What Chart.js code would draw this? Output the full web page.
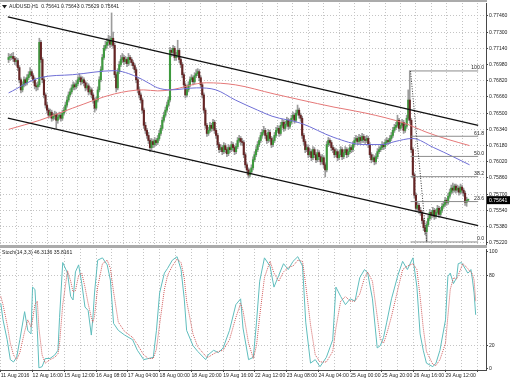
<!DOCTYPE html>
<html>
<head>
<meta charset="utf-8">
<title>AUDUSD H1</title>
<script src="https://cdn.jsdelivr.net/npm/chart.js@4.4.1/dist/chart.umd.min.js"></script>
<style>
  html, body { margin: 0; padding: 0; background: #fff; }
  body { position: relative; width: 510px; height: 382px; overflow: hidden; }
  canvas { position: absolute; left: 0; }
  #priceChart { top: 0; }
  #stochChart { top: 248px; }
  .sep { position: absolute; left: 0; width: 487px; background: #ababab; }
</style>
</head>
<body>
<canvas id="priceChart" width="510" height="248"></canvas>
<canvas id="stochChart" width="510" height="134"></canvas>
<div class="sep" style="top:0;height:2px"></div>
<div class="sep" style="top:245px;height:3px"></div>
<script>
// AUDUSD H1, one bar per hour from 11 Aug 2016 20:00
const timeLabels = ['11 Aug 2016', '12 Aug 16:00', '15 Aug 12:00', '16 Aug 08:00', '17 Aug 04:00',
    '18 Aug 00:00', '18 Aug 20:00', '19 Aug 16:00', '22 Aug 12:00', '23 Aug 08:00', '24 Aug 04:00',
    '25 Aug 00:00', '25 Aug 20:00', '26 Aug 16:00', '29 Aug 12:00'];
const priceTicks = [0.7746, 0.7730, 0.7714, 0.7698, 0.7682, 0.7666, 0.7650, 0.7634,
    0.7618, 0.7602, 0.7586, 0.7570, 0.7554, 0.7538, 0.7522];
const stochTicks = [0, 20, 80, 100];

const firstOpen = 0.7703;
const closes = [
    0.7705,0.7705,0.7706,0.7704,0.7701,0.7702,0.7695,0.7683,0.7673,0.7678,
    0.7683,0.7680,0.7685,0.7688,0.7691,0.7687,0.7683,0.7677,0.7676,0.7678,
    0.7720,0.7703,0.7683,0.7668,0.7658,0.7653,0.7648,0.7651,0.7645,0.7647,
    0.7649,0.7643,0.7646,0.7648,0.7645,0.7650,0.7653,0.7658,0.7663,0.7668,
    0.7671,0.7675,0.7678,0.7676,0.7679,0.7683,0.7685,0.7681,0.7683,0.7680,
    0.7675,0.7677,0.7671,0.7673,0.7668,0.7663,0.7655,0.7663,0.7673,0.7683,
    0.7693,0.7705,0.7714,0.7717,0.7720,0.7722,0.7718,0.7724,0.7717,0.7688,
    0.7675,0.7691,0.7698,0.7703,0.7705,0.7701,0.7703,0.7699,0.7705,0.7703,
    0.7700,0.7697,0.7693,0.7683,0.7673,0.7668,0.7663,0.7653,0.7638,0.7633,
    0.7628,0.7623,0.7616,0.7622,0.7619,0.7623,0.7621,0.7625,0.7630,0.7635,
    0.7643,0.7648,0.7653,0.7658,0.7663,0.7712,0.7710,0.7714,0.7705,0.7707,
    0.7712,0.7703,0.7698,0.7688,0.7678,0.7668,0.7673,0.7678,0.7683,0.7685,
    0.7681,0.7687,0.7689,0.7691,0.7685,0.7678,0.7668,0.7653,0.7638,0.7630,
    0.7633,0.7638,0.7635,0.7641,0.7633,0.7628,0.7619,0.7614,0.7616,0.7612,
    0.7618,0.7614,0.7610,0.7616,0.7614,0.7619,0.7616,0.7612,0.7617,0.7623,
    0.7625,0.7622,0.7621,0.7609,0.7599,0.7594,0.7589,0.7592,0.7596,0.7604,
    0.7609,0.7614,0.7619,0.7623,0.7628,0.7631,0.7633,0.7628,0.7623,0.7631,
    0.7625,0.7619,0.7623,0.7628,0.7633,0.7635,0.7630,0.7638,0.7641,0.7635,
    0.7639,0.7643,0.7637,0.7641,0.7645,0.7648,0.7643,0.7650,0.7653,0.7648,
    0.7645,0.7628,0.7622,0.7614,0.7616,0.7609,0.7612,0.7606,0.7614,0.7609,
    0.7604,0.7611,0.7607,0.7602,0.7606,0.7599,0.7594,0.7619,0.7623,0.7621,
    0.7616,0.7614,0.7609,0.7612,0.7606,0.7609,0.7614,0.7607,0.7611,0.7614,
    0.7609,0.7612,0.7616,0.7614,0.7619,0.7623,0.7625,0.7622,0.7626,0.7623,
    0.7627,0.7624,0.7623,0.7625,0.7619,0.7609,0.7604,0.7606,0.7602,0.7607,
    0.7612,0.7614,0.7616,0.7619,0.7617,0.7621,0.7623,0.7622,0.7625,0.7628,
    0.7633,0.7636,0.7638,0.7643,0.7635,0.7638,0.7641,0.7633,0.7637,0.7645,
    0.7663,0.7643,0.7614,0.7589,0.7569,0.7556,0.7559,0.7554,0.7552,0.7544,
    0.7537,0.7533,0.7540,0.7546,0.7552,0.7549,0.7554,0.7548,0.7552,0.7556,
    0.7550,0.7554,0.7558,0.7560,0.7564,0.7562,0.7568,0.7572,0.7576,0.7574,
    0.7578,0.7574,0.7576,0.7572,0.7577,0.7574,0.7571,0.7562,0.75641,0.75641
];
const highs = [
    0.7709,0.7708,0.7709,0.7710,0.7706,0.7705,0.7704,0.7697,0.7685,0.7681,
    0.7686,0.7685,0.7688,0.7691,0.7695,0.7693,0.7689,0.7685,0.7680,0.7681,
    0.7724,0.7722,0.7705,0.7686,0.7670,0.7661,0.7655,0.7654,0.7653,0.7650,
    0.7652,0.7651,0.7649,0.7651,0.7650,0.7653,0.7656,0.7661,0.7666,0.7671,
    0.7674,0.7678,0.7681,0.7680,0.7682,0.7686,0.7689,0.7687,0.7686,0.7685,
    0.7682,0.7680,0.7679,0.7676,0.7675,0.7670,0.7665,0.7666,0.7676,0.7686,
    0.7696,0.7708,0.7717,0.7721,0.7724,0.7727,0.7726,0.7749,0.7730,0.7719,
    0.7690,0.7694,0.7701,0.7707,0.7709,0.7707,0.7706,0.7705,0.7709,0.7707,
    0.7705,0.7702,0.7699,0.7695,0.7685,0.7676,0.7670,0.7665,0.7655,0.7641,
    0.7635,0.7631,0.7625,0.7625,0.7624,0.7626,0.7625,0.7628,0.7633,0.7638,
    0.7646,0.7651,0.7656,0.7661,0.7666,0.7715,0.7714,0.7717,0.7716,0.7710,
    0.7722,0.7714,0.7705,0.7700,0.7690,0.7680,0.7676,0.7681,0.7686,0.7688,
    0.7687,0.7690,0.7693,0.7694,0.7693,0.7687,0.7680,0.7670,0.7655,0.7640,
    0.7636,0.7641,0.7640,0.7644,0.7643,0.7635,0.7630,0.7621,0.7619,0.7618,
    0.7621,0.7620,0.7616,0.7619,0.7618,0.7622,0.7621,0.7618,0.7620,0.7626,
    0.7628,0.7627,0.7625,0.7623,0.7611,0.7601,0.7596,0.7595,0.7599,0.7607,
    0.7612,0.7617,0.7622,0.7626,0.7631,0.7634,0.7637,0.7635,0.7630,0.7634,
    0.7633,0.7627,0.7626,0.7631,0.7636,0.7638,0.7637,0.7641,0.7644,0.7643,
    0.7642,0.7646,0.7645,0.7644,0.7648,0.7651,0.7650,0.7653,0.7658,0.7655,
    0.7650,0.7647,0.7630,0.7624,0.7619,0.7618,0.7615,0.7614,0.7617,0.7616,
    0.7611,0.7614,0.7613,0.7609,0.7609,0.7608,0.7601,0.7622,0.7626,0.7625,
    0.7623,0.7618,0.7616,0.7615,0.7614,0.7612,0.7617,0.7616,0.7614,0.7617,
    0.7616,0.7615,0.7619,0.7618,0.7622,0.7626,0.7628,0.7627,0.7629,0.7628,
    0.7630,0.7629,0.7627,0.7628,0.7627,0.7621,0.7611,0.7609,0.7608,0.7610,
    0.7615,0.7617,0.7619,0.7622,0.7621,0.7624,0.7626,0.7625,0.7628,0.7631,
    0.7636,0.7639,0.7641,0.7648,0.7645,0.7641,0.7644,0.7643,0.7640,0.7648,
    0.7673,0.7692,0.7645,0.7616,0.7591,0.7571,0.7562,0.7561,0.7557,0.7554,
    0.7546,0.7539,0.7543,0.7549,0.7555,0.7554,0.7557,0.7556,0.7555,0.7559,
    0.7558,0.7557,0.7561,0.7563,0.7567,0.7566,0.7571,0.7575,0.7579,0.7581,
    0.7580,0.7580,0.7579,0.7578,0.7580,0.7579,0.7576,0.7573,0.7567,0.75643
];
const lows = [
    0.7700,0.7702,0.7703,0.7701,0.7698,0.7697,0.7692,0.7680,0.7670,0.7671,
    0.7676,0.7677,0.7678,0.7683,0.7686,0.7684,0.7680,0.7674,0.7672,0.7673,
    0.7676,0.7700,0.7680,0.7665,0.7655,0.7650,0.7645,0.7646,0.7642,0.7643,
    0.7644,0.7635,0.7640,0.7644,0.7642,0.7643,0.7648,0.7651,0.7656,0.7661,
    0.7666,0.7669,0.7673,0.7673,0.7674,0.7677,0.7681,0.7678,0.7679,0.7677,
    0.7672,0.7673,0.7668,0.7669,0.7665,0.7660,0.7651,0.7653,0.7661,0.7671,
    0.7681,0.7691,0.7703,0.7712,0.7714,0.7717,0.7715,0.7716,0.7714,0.7685,
    0.7671,0.7673,0.7689,0.7696,0.7700,0.7698,0.7699,0.7696,0.7697,0.7700,
    0.7697,0.7694,0.7690,0.7680,0.7670,0.7665,0.7660,0.7650,0.7635,0.7630,
    0.7625,0.7620,0.7612,0.7614,0.7616,0.7617,0.7618,0.7619,0.7623,0.7628,
    0.7633,0.7641,0.7646,0.7651,0.7656,0.7661,0.7706,0.7707,0.7702,0.7702,
    0.7705,0.7700,0.7695,0.7685,0.7675,0.7665,0.7666,0.7671,0.7676,0.7681,
    0.7678,0.7679,0.7685,0.7687,0.7682,0.7675,0.7665,0.7650,0.7635,0.7627,
    0.7628,0.7631,0.7632,0.7633,0.7630,0.7625,0.7616,0.7611,0.7612,0.7609,
    0.7610,0.7611,0.7607,0.7608,0.7611,0.7612,0.7613,0.7609,0.7610,0.7615,
    0.7621,0.7619,0.7618,0.7606,0.7596,0.7591,0.7586,0.7587,0.7590,0.7594,
    0.7602,0.7607,0.7612,0.7617,0.7621,0.7626,0.7629,0.7625,0.7620,0.7621,
    0.7622,0.7616,0.7617,0.7621,0.7626,0.7631,0.7627,0.7628,0.7636,0.7632,
    0.7633,0.7637,0.7634,0.7635,0.7639,0.7643,0.7640,0.7641,0.7648,0.7645,
    0.7642,0.7625,0.7619,0.7611,0.7612,0.7606,0.7607,0.7603,0.7604,0.7606,
    0.7601,0.7602,0.7604,0.7599,0.7600,0.7596,0.7587,0.7592,0.7617,0.7618,
    0.7613,0.7611,0.7606,0.7607,0.7603,0.7604,0.7607,0.7604,0.7605,0.7609,
    0.7606,0.7607,0.7610,0.7611,0.7612,0.7617,0.7621,0.7619,0.7620,0.7620,
    0.7621,0.7621,0.7620,0.7621,0.7616,0.7606,0.7601,0.7602,0.7599,0.7600,
    0.7605,0.7610,0.7612,0.7614,0.7614,0.7615,0.7619,0.7619,0.7620,0.7623,
    0.7626,0.7631,0.7634,0.7636,0.7632,0.7633,0.7636,0.7630,0.7631,0.7635,
    0.7643,0.7640,0.7611,0.7586,0.7566,0.7553,0.7554,0.7551,0.7549,0.7541,
    0.7534,0.7530,0.7523,0.7538,0.7544,0.7546,0.7547,0.7545,0.7546,0.7550,
    0.7547,0.7548,0.7552,0.7556,0.7558,0.7559,0.7560,0.7566,0.7570,0.7571,
    0.7572,0.7571,0.7572,0.7569,0.7570,0.7571,0.7568,0.7559,0.7558,0.75629
];

// moving averages, read at a few bars
const blueBars = [0, 20.3, 41.7, 68.8, 83.3, 90.8, 97, 105.3, 122.3, 134.9, 147.5,
    162, 171.4, 190.3, 211.7, 230.6, 243.2, 251.4, 262.7, 276.6, 289.2, 299.9];
const blueMa = [0.7670, 0.7685, 0.7688, 0.7692, 0.7686, 0.7680, 0.7675, 0.7673, 0.7675, 0.7673, 0.7663,
    0.7653, 0.7647, 0.7640, 0.7626, 0.7619, 0.7619, 0.7622, 0.7625, 0.7616, 0.7607, 0.7599];
const redBars = [0, 20.3, 41.7, 68.8, 87.7, 97, 105.3, 128.6, 147.5, 172.7, 190.3,
    211.7, 232.5, 257.7, 272.2, 286, 299.9];
const redMa = [0.7634, 0.7643, 0.7655, 0.7669, 0.7673, 0.7672, 0.7673, 0.7680, 0.7678, 0.7669, 0.7663,
    0.7656, 0.7650, 0.7640, 0.7631, 0.7624, 0.7618];

// drawn objects
const channelBars = [-0.5, 305.5];
const upperChannel = [0.7745, 0.7638];
const lowerChannel = [0.7645, 0.7539];
const fibBars = [261.5, 272];
const fibEnds = [0.76917, 0.75228];
const fibNames = ['100.0', '61.8', '50.0', '38.2', '23.6', '0.0'];
const fibPrices = [0.76917, 0.76272, 0.76073, 0.75873, 0.75627, 0.75228];

// Stoch(14,3,3)
const stochBars = [0,1.4,4,6,8,10,12,15,17,19,20,21.5,23,24,26,28,31,34,36,37,39,42,44,45.5,47,49,51,53,55,57,
    58,59,61,64,67,69,71,74,78,83,86,90,93,96,98,100,103,105,108,111,113.5,115.5,117,121,124,129,130.5,134,137,140,
    144,148,151,152.5,156,159,161,163,166,169.5,172,175,178,181,184,187,190,192,195,198,201,205,209,211,214,217,220,223,226,229,
    231,234,237,239,241,243,246,250,253,256,259.5,262,264,266,268,272,274,276.5,280,281.5,283,285,287,288,290,291,
    294,295,296,297,298,299];
const stochMain = [56,42,25,8,6,10,25,49,33,30,70,68,33,1,2,9,9,12,16,44,91,82,62,59,83,89,73,53,50,29,
    44,65,93,95,89,76,39,33,29,25,16,8,9,10,33,65,82,86,93,96,85,60,33,20,15,8,12,16,14,18,
    33,55,60,35,8,10,40,75,95,88,70,80,90,85,92,96,88,40,5,8,2,10,25,70,62,55,60,58,78,85,
    82,60,18,20,27,40,60,80,92,85,95,70,30,16,5,2,5,16,42,79,82,73,78,90,91,89,
    82,83,85,76,65,46.31];
const stochSignal = [62,55,38,22,12,8,14,32,42,36,42,55,58,35,12,5,8,10,13,22,55,84,75,66,67,80,82,70,56,44,
    40,45,70,90,93,86,66,40,32,27,21,12,9,9,17,38,68,80,88,94,91,78,58,30,19,11,10,13,15,16,
    25,44,56,50,22,9,20,45,78,92,82,75,83,87,88,93,92,72,38,12,6,6,15,35,58,62,58,58,64,78,
    83,75,45,25,22,30,45,68,85,88,90,85,62,35,15,4,3,8,22,45,68,78,77,80,87,90,
    86,84,83,81,76,58];

const mainTitle = 'AUDUSD,H1  0.75641 0.75643 0.75629 0.75641';
const stochTitle = 'Stoch(14,3,3) 46.3136 35.8161';

const X_MIN = -0.5, X_MAX = 305.5;
const GRID = '#c4c4c4';
const AXIS = '#474747';
const FONT = '5.1px "Liberation Sans", Arial, sans-serif';

Chart.defaults.font.family = '"Liberation Sans", Arial, sans-serif';
Chart.defaults.font.size = 5.1;
Chart.defaults.color = '#1e1e1e';
Chart.defaults.animation = false;
Chart.defaults.events = [];
Chart.defaults.plugins.legend.display = false;
Chart.defaults.plugins.tooltip.enabled = false;

const opens = closes.map((c, i) => i === 0 ? firstOpen : closes[i - 1]);
const pts = (xs, ys) => xs.map((x, i) => ({ x: x, y: ys[i] }));

const flatLine = (data, color, extra) => Object.assign({
    type: 'line', data: data, borderColor: color, borderWidth: 1,
    pointRadius: 0, fill: false, tension: 0
}, extra || {});

// candles: wick bar + body bar
const datasets = [
    {
        type: 'bar', order: 4, grouped: false, barThickness: 1,
        data: closes.map((c, i) => ({ x: i, y: [lows[i], highs[i]] })),
        backgroundColor: '#9c9c9c'
    },
    {
        type: 'bar', order: 3, grouped: false, barThickness: 1.45, minBarLength: 1,
        data: closes.map((c, i) => ({ x: i, y: [opens[i], c] })),
        backgroundColor: closes.map((c, i) => c >= opens[i] ? '#3e9a3e' : '#652424')
    },
    flatLine(pts(blueBars, blueMa), '#6f6fd6', { order: 2, cubicInterpolationMode: 'monotone' }),
    flatLine(pts(redBars, redMa), '#e57878', { order: 2, cubicInterpolationMode: 'monotone' }),
    flatLine(pts(channelBars, upperChannel), '#111', { order: 0, borderWidth: 1.3 }),
    flatLine(pts(channelBars, lowerChannel), '#111', { order: 0, borderWidth: 1.3 }),
    flatLine(pts(fibBars, fibEnds), '#333', { order: 1, borderDash: [1, 1.5] })
];
fibPrices.forEach(p => {
    datasets.push(flatLine(pts([fibBars[0], X_MAX], [p, p]), '#8c8c8c', { order: 1 }));
});

const priceOverlay = {
    id: 'priceOverlay',
    afterDraw(chart) {
        const { ctx, chartArea } = chart;
        const y = chart.scales.y;
        ctx.save();
        ctx.font = FONT;
        ctx.fillStyle = '#1e1e1e';
        ctx.beginPath();
        ctx.moveTo(2, 5); ctx.lineTo(7, 5); ctx.lineTo(4.5, 8.5); ctx.closePath();
        ctx.fill();
        ctx.textBaseline = 'middle';
        ctx.fillText(mainTitle, 9, 7);

        ctx.textAlign = 'right';
        ctx.textBaseline = 'bottom';
        fibNames.forEach((n, i) => {
            ctx.fillText(n, chartArea.right - 2, y.getPixelForValue(fibPrices[i]) - 0.5);
        });

        const last = closes[closes.length - 1];
        const py = y.getPixelForValue(last);
        ctx.fillStyle = '#000';
        ctx.fillRect(chartArea.right + 1, py - 4, 23, 8);
        ctx.fillStyle = '#fff';
        ctx.textAlign = 'left';
        ctx.textBaseline = 'middle';
        ctx.fillText(last.toFixed(5), chartArea.right + 3, py);
        ctx.restore();
    }
};

const stochOverlay = {
    id: 'stochOverlay',
    afterDraw(chart) {
        const ctx = chart.ctx;
        ctx.save();
        ctx.font = FONT;
        ctx.fillStyle = '#1e1e1e';
        ctx.textBaseline = 'middle';
        ctx.fillText(stochTitle, 2, 5);
        ctx.restore();
    }
};

new Chart(document.getElementById('priceChart'), {
    type: 'bar',
    data: { datasets: datasets },
    options: {
        responsive: false,
        layout: { padding: { top: 3, bottom: 4, left: 0, right: 0 } },
        scales: {
            x: {
                type: 'linear', min: X_MIN, max: X_MAX,
                ticks: { display: false, stepSize: 10, includeBounds: false },
                grid: { color: GRID, drawTicks: false },
                border: { display: false, dash: [1, 2] },
                afterFit: s => { s.height = 0; s.paddingLeft = 0; s.paddingRight = 0; }
            },
            y: {
                type: 'linear', position: 'right', min: 0.75208, max: 0.77588,
                afterBuildTicks: s => { s.ticks = priceTicks.map(v => ({ value: v })); },
                ticks: { callback: v => v.toFixed(5), padding: 1, autoSkip: false },
                grid: { color: GRID, tickColor: AXIS, tickLength: 2 },
                border: { display: true, color: AXIS, dash: [1, 2] },
                afterFit: s => { s.width = 24; s.paddingTop = 0; s.paddingBottom = 0; }
            }
        }
    },
    plugins: [priceOverlay]
});

new Chart(document.getElementById('stochChart'), {
    type: 'line',
    data: {
        datasets: [
            flatLine(pts(stochBars, stochMain), '#5fbdbd', { order: 1 }),
            flatLine(pts(stochBars, stochSignal), '#d05a5a', { order: 0, borderDash: [1, 1] })
        ]
    },
    options: {
        responsive: false,
        layout: { padding: { top: 1, bottom: 0, left: 0, right: 0 } },
        scales: {
            x: {
                type: 'linear', min: X_MIN, max: X_MAX,
                ticks: {
                    stepSize: 10, includeBounds: false, autoSkip: false, maxRotation: 0, minRotation: 0,
                    align: 'start', padding: 1,
                    callback: v => (v % 20 === 0 && timeLabels[v / 20]) ? timeLabels[v / 20] : ''
                },
                grid: {
                    color: GRID, tickLength: 2,
                    tickColor: c => (c.tick && c.tick.value % 20 === 0) ? AXIS : 'rgba(0,0,0,0)'
                },
                border: { display: true, color: AXIS, dash: [1, 2] },
                afterFit: s => { s.height = 12; s.paddingLeft = 0; s.paddingRight = 0; }
            },
            y: {
                type: 'linear', position: 'right', min: -0.855, max: 102.56,
                afterBuildTicks: s => { s.ticks = stochTicks.map(v => ({ value: v })); },
                ticks: { callback: v => String(v), padding: 1, autoSkip: false },
                grid: {
                    color: c => (c.tick && (c.tick.value === 20 || c.tick.value === 80)) ? GRID : 'rgba(0,0,0,0)',
                    tickColor: AXIS, tickLength: 2
                },
                border: { display: true, color: AXIS, dash: [1, 2] },
                afterFit: s => { s.width = 24; s.paddingTop = 0; s.paddingBottom = 0; }
            }
        }
    },
    plugins: [stochOverlay]
});
</script>
</body>
</html>
